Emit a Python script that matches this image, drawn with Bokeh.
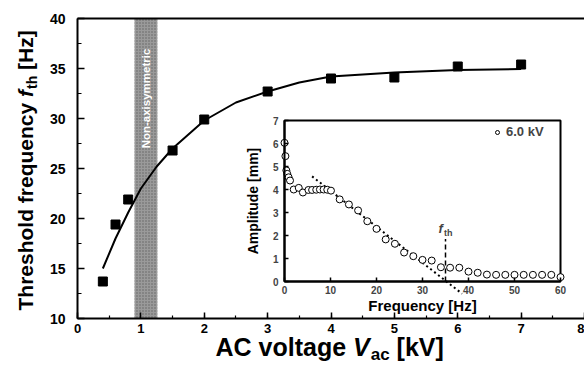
import math
from bokeh.plotting import figure
from bokeh.models import (Range1d, LinearAxis, SingleIntervalTicker, FixedTicker,
                          BoxAnnotation, Label, Legend, LegendItem)
from bokeh.embed import file_html
from bokeh.resources import INLINE

# ---------------- data ----------------
voltage_kv = [0.4, 0.6, 0.8, 1.5, 2.0, 3.0, 4.0, 5.0, 6.0, 7.0]
threshold_hz = [13.7, 19.4, 21.9, 26.8, 29.9, 32.7, 34.0, 34.1, 35.2, 35.4]

fit_kv = [0.4, 0.6, 0.8, 1.0, 1.25, 1.5, 2.0, 2.5, 3.0, 3.5, 4.0, 5.0, 6.0, 7.0]
fit_hz = [15.0, 18.0, 20.6, 23.0, 25.2, 27.0, 29.8, 31.6, 32.7, 33.6, 34.2, 34.6, 34.85, 34.95]

x_axis_kv = [0, 8]
y_axis_hz = [10, 40]
band_kv = [0.90, 1.26]
band_text = "Non-axisymmetric"

freq_axis_hz = [0, 60]
amp_axis_mm = [0, 7]
freq_hz = [0.0, 0.2, 0.4, 0.6, 0.9, 1.2, 2.0, 3.1, 4.0,
           5.2, 6.0, 6.9, 7.7, 8.5, 9.3, 10.1,
           12.0, 14.0, 16.0, 18.0, 20.0, 22.0, 24.0, 26.0, 28.0, 30.0,
           32.0, 34.0, 36.0, 38.0, 40.0, 42.0, 44.0, 46.0, 48.0, 50.0,
           52.0, 54.0, 56.0, 58.0, 60.0]
amp_mm = [6.03, 5.45, 4.83, 4.68, 4.53, 4.39, 4.0, 4.07, 3.87,
          3.98, 3.98, 3.99, 4.0, 4.0, 3.99, 3.95,
          3.57, 3.35, 3.09, 2.62, 2.29, 1.83, 1.64, 1.26, 1.10, 0.94,
          0.91, 0.62, 0.60, 0.60, 0.43, 0.38, 0.30, 0.29, 0.29, 0.29,
          0.29, 0.29, 0.29, 0.29, 0.19]
trend_hz = [6.0, 38.6]
trend_mm = [4.57, -0.53]
fth_hz = [35.0, 35.0]
fth_mm = [0.0, 1.85]
legend_text = "6.0 kV"

# ---------------- layout constants (canvas pixels) ----------------
W, H = 584, 364
ML, MR, MT, MB = 77, 584, 18, 318      # main data box: x 0..8, y 10..40
IL, IR, IT, IB = 284, 560, 120, 281    # inset data box: f 0..60, A 0..7
FONT = "Liberation Sans"
BASE_SHIFT = 0.3                        # renderer puts the baseline ~0.3em past the anchor

sx_main = (MR - ML) / (x_axis_kv[1] - x_axis_kv[0])
sy_main = (MB - MT) / (y_axis_hz[1] - y_axis_hz[0])
x_range = Range1d(x_axis_kv[0] - ML / sx_main, x_axis_kv[1] + (W - MR) / sx_main)
y_range = Range1d(y_axis_hz[0] - (H - MB) / sy_main, y_axis_hz[1] + MT / sy_main)

sx_in = (IR - IL) / (freq_axis_hz[1] - freq_axis_hz[0])
sy_in = (IB - IT) / (amp_axis_mm[1] - amp_axis_mm[0])
fx = Range1d(freq_axis_hz[0] - IL / sx_in, freq_axis_hz[1] + (W - IR) / sx_in)
fy = Range1d(amp_axis_mm[0] - (H - IB) / sy_in, amp_axis_mm[1] + IT / sy_in)

p = figure(width=W, height=H, x_range=x_range, y_range=y_range,
           output_backend="svg", toolbar_location=None,
           x_axis_location=None, y_axis_location=None, min_border=0)
p.min_border_left = p.min_border_right = p.min_border_top = p.min_border_bottom = 0
p.outline_line_color = None
p.background_fill_color = "white"
p.border_fill_color = "white"
p.xgrid.visible = False
p.ygrid.visible = False
p.extra_x_ranges = {"fx": fx}
p.extra_y_ranges = {"fy": fy}

# ---------------- main axes (drawn at fixed data locations) ----------------
xa = LinearAxis(fixed_location=y_axis_hz[0], bounds=tuple(x_axis_kv),
                ticker=SingleIntervalTicker(interval=1, num_minor_ticks=2))
ya = LinearAxis(fixed_location=x_axis_kv[0], bounds=tuple(y_axis_hz),
                ticker=SingleIntervalTicker(interval=5, num_minor_ticks=2))
for ax, tin, mtin in ((xa, 6, 3), (ya, 7, 4)):
    ax.axis_line_width = 2
    ax.axis_line_color = "black"
    ax.major_tick_in = tin
    ax.major_tick_out = 0
    ax.minor_tick_in = mtin
    ax.minor_tick_out = 0
    ax.major_tick_line_width = 1.5
    ax.minor_tick_line_width = 1.2
    ax.major_tick_line_color = "black"
    ax.minor_tick_line_color = "black"
    ax.major_label_text_font = FONT
    ax.major_label_text_font_style = "bold"
    ax.major_label_text_color = "black"
xa.major_label_text_font_size = "13px"
ya.major_label_text_font_size = "14px"
xa.major_label_standoff = 5
ya.major_label_standoff = 12
p.add_layout(xa, "below")
p.add_layout(ya, "left")
# top border of the main frame
p.add_layout(LinearAxis(fixed_location=y_axis_hz[1], bounds=tuple(x_axis_kv),
                        ticker=FixedTicker(ticks=[]), axis_line_width=2, axis_line_color="black",
                        major_label_text_font_size="0px"), "above")

# shaded band
p.add_layout(BoxAnnotation(left=band_kv[0], right=band_kv[1], bottom=y_axis_hz[0], top=y_axis_hz[1],
                           fill_color="#9a9a9a", fill_alpha=1, line_color=None,
                           hatch_pattern="dot", hatch_color="#626262", hatch_alpha=1,
                           hatch_scale=3, hatch_weight=1, level="underlay"))
p.add_layout(Label(x=(band_kv[0] + band_kv[1]) / 2, y=32.0, text=band_text, angle=math.pi / 2,
                   text_align="center", text_baseline="middle", text_color="white",
                   text_font=FONT, text_font_size="11.5px", text_font_style="bold"))

# main curve and points
p.line(fit_kv, fit_hz, line_color="black", line_width=2)
p.scatter(voltage_kv, threshold_hz, marker="square", size=9, fill_color="black", line_color="black")

# ---------------- inset ----------------
p.add_layout(BoxAnnotation(left=freq_axis_hz[0], right=freq_axis_hz[1],
                           bottom=amp_axis_mm[0], top=amp_axis_mm[1],
                           x_range_name="fx", y_range_name="fy",
                           fill_color="white", fill_alpha=1, line_color="black", line_alpha=1,
                           line_width=2, level="underlay"))
ix = LinearAxis(x_range_name="fx", y_range_name="fy", fixed_location=amp_axis_mm[0],
                bounds=tuple(freq_axis_hz),
                ticker=SingleIntervalTicker(interval=10, num_minor_ticks=0),
                axis_label="Frequency [Hz]")
iy = LinearAxis(x_range_name="fx", y_range_name="fy", fixed_location=freq_axis_hz[0],
                bounds=tuple(amp_axis_mm),
                ticker=SingleIntervalTicker(interval=1, num_minor_ticks=0),
                axis_label="Amplitude [mm]")
for ax in (ix, iy):
    ax.axis_line_width = 2
    ax.axis_line_color = "black"
    ax.major_tick_in = 4
    ax.major_tick_out = 0
    ax.major_tick_line_width = 1.5
    ax.minor_tick_line_color = None
    ax.major_label_text_font = FONT
    ax.major_label_text_font_size = "10px"
    ax.major_label_text_font_style = "bold"
    ax.axis_label_text_font = FONT
    ax.axis_label_text_font_style = "bold"
    ax.axis_label_text_color = "black"
ix.major_label_standoff = 4
ix.axis_label_text_font_size = "15px"
ix.axis_label_standoff = 0
iy.major_label_standoff = 6
iy.axis_label_text_font_size = "14px"
iy.axis_label_standoff = 9
p.add_layout(ix, "below")
p.add_layout(iy, "left")

p.line(trend_hz, trend_mm, x_range_name="fx", y_range_name="fy", line_color="black",
       line_width=2, line_dash="2 3")
p.line(fth_hz, fth_mm, x_range_name="fx", y_range_name="fy", line_color="black",
       line_width=1.5, line_dash="5 3")
r_amp = p.scatter(freq_hz, amp_mm, x_range_name="fx", y_range_name="fy", marker="circle", size=7,
                  fill_color="white", line_color="black", line_width=1)

p.add_layout(Label(x=fth_hz[0], y=fth_mm[1], x_range_name="fx", y_range_name="fy", text="f",
                   x_offset=-7, y_offset=6.5 + BASE_SHIFT * 13, text_align="left",
                   text_baseline="alphabetic", text_font=FONT, text_font_size="13px",
                   text_font_style="bold italic"))
p.add_layout(Label(x=fth_hz[0], y=fth_mm[1], x_range_name="fx", y_range_name="fy", text="th",
                   x_offset=-1.5, y_offset=3 + BASE_SHIFT * 9, text_align="left",
                   text_baseline="alphabetic", text_font=FONT, text_font_size="9px",
                   text_font_style="bold"))

# legend: circle centre at canvas (497, 133)
legend = Legend(items=[LegendItem(label=legend_text, renderers=[r_amp])],
                location=(497 - 5, H - 133 - 6), glyph_width=10, glyph_height=12, label_height=12,
                label_standoff=4, padding=0, margin=0, spacing=0, border_line_color=None,
                background_fill_alpha=0, label_text_font=FONT, label_text_font_size="13px",
                label_text_font_style="bold")
p.add_layout(legend)

# ---------------- composed axis titles (positions in canvas px) ----------------
ARIAL_BOLD = {" ": 278, "[": 333, "]": 333, "A": 722, "C": 722, "H": 722, "T": 611, "V": 667,
              "a": 556, "c": 556, "d": 611, "e": 556, "f": 333, "g": 611, "h": 611, "k": 556,
              "l": 278, "n": 611, "o": 611, "q": 611, "r": 389, "s": 556, "t": 333, "u": 611,
              "v": 556, "y": 556, "z": 500}


def tw(s, size):
    return sum(ARIAL_BOLD.get(ch, 556) for ch in s) * size / 1000.0


def compose(parts, px0, py0, vertical):
    """Place text pieces one after another along a common baseline (px0, py0)."""
    pos = 0.0
    for text, size, style, shift, extra in parts:
        lead = len(text) - len(text.lstrip(" "))
        pos += tw(" " * lead, size)
        body = text.strip(" ")
        adj = BASE_SHIFT * size
        if vertical:
            px, py, ang = px0 + shift - adj, py0 - pos, math.pi / 2
        else:
            px, py, ang = px0 + pos, py0 + shift - adj, 0.0
        p.add_layout(Label(x=px, y=H - py, x_units="screen", y_units="screen", text=body,
                           angle=ang, text_align="left", text_baseline="alphabetic",
                           text_color="black", text_font=FONT, text_font_size=f"{size}px",
                           text_font_style=style))
        pos += tw(text[lead:], size) + extra


compose([("AC voltage ", 25, "bold", 0, 0), ("V", 25, "bold italic", 0, 1),
         ("ac", 17, "bold", 6, 0), (" [kV]", 25, "bold", 0, 0)],
        px0=215, py0=353.5, vertical=False)
compose([("Threshold frequency ", 21, "bold", 0, 0), ("f", 21, "bold italic", 0, 1),
         ("th", 14, "bold", 4.5, 0), (" [Hz]", 21, "bold", 0, 0)],
        px0=31.5, py0=310, vertical=True)

open("out.html", "w").write(file_html(p, INLINE))
